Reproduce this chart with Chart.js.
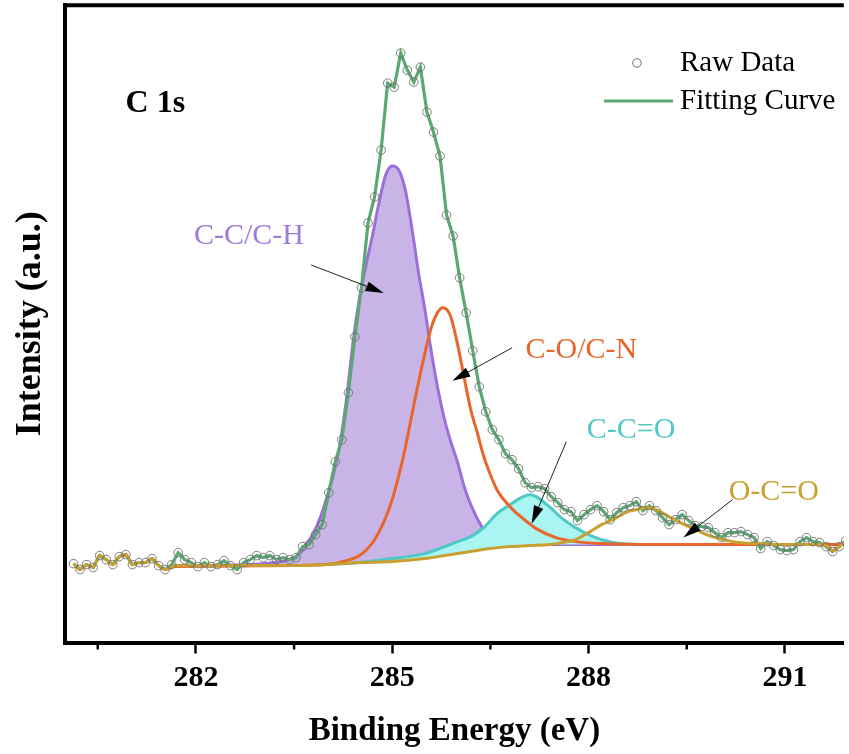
<!DOCTYPE html>
<html><head><meta charset="utf-8">
<script src="https://cdn.jsdelivr.net/npm/chart.js@4"></script>
<style>html,body{margin:0;padding:0;background:#fff;overflow:hidden}</style>
</head><body>
<canvas id="c" width="849" height="754"></canvas>
<script>
// Binding energy grid of the raw spectrum (eV)
const energy = [
280.13,280.23,280.33,280.43,280.53,280.63,280.73,280.83,280.93,281.03,
281.13,281.23,281.33,281.43,281.53,281.63,281.73,281.83,281.93,282.03,
282.13,282.23,282.33,282.43,282.53,282.63,282.73,282.83,282.93,283.03,
283.13,283.23,283.33,283.43,283.53,283.63,283.73,283.83,283.93,284.03,
284.13,284.23,284.33,284.43,284.53,284.63,284.73,284.83,284.93,285.03,
285.13,285.23,285.33,285.43,285.53,285.63,285.73,285.83,285.93,286.03,
286.13,286.23,286.33,286.43,286.53,286.63,286.73,286.83,286.93,287.03,
287.13,287.23,287.33,287.43,287.53,287.63,287.73,287.83,287.93,288.03,
288.13,288.23,288.33,288.43,288.53,288.63,288.73,288.83,288.93,289.03,
289.13,289.23,289.33,289.43,289.53,289.63,289.73,289.83,289.93,290.03,
290.13,290.23,290.33,290.43,290.53,290.63,290.73,290.83,290.93,291.03,
291.13,291.23,291.33,291.43,291.53,291.63,291.73,291.83,291.93];
// Raw intensity (a.u.)
const rawIntensity = [
79,73,78,75,87,83,78,86,88,78,
80,80,84,77,73,78,90,83,80,76,
80,76,78,82,77,73,80,83,87,85,
87,83,85,83,85,96,98,108,118,150,
181,203,250,306,355,420,446,493,560,556,
590,573,561,576,531,511,487,428,407,365,
330,292,256,231,213,203,189,183,174,160,
155,156,154,146,140,133,131,122,128,133,
137,131,123,130,135,137,141,132,137,132,
125,118,123,128,122,117,116,115,110,105,
110,110,111,108,105,94,101,97,93,92,
93,101,105,101,100,96,91,96,102];

// C-C/C-H component
const cchE = [281.6,282.8,283.2,283.5,283.6,283.7,283.8,283.9,284.0,284.1,284.2,284.3,284.4,284.5,284.6,284.7,284.8,284.9,285.0,285.1,285.2,285.3,285.4,285.5,285.6,285.7,285.8,285.9,286.0,286.1,286.2,286.4,286.6,286.8,287.1,287.5,291.9];
const cchI = [77,78,80,85,90,99,110,125,145,168,198,243,300,345,378,408,441,468,477,473,453,415,371,333,290,253,223,200,180,156,138,113,105,101,98,98,98];
// C-O/C-N component
const coE = [281.6,283.5,284.0,284.3,284.5,284.7,284.8,284.9,285.0,285.1,285.2,285.3,285.4,285.5,285.6,285.7,285.77,285.85,285.9,286.0,286.1,286.2,286.3,286.4,286.5,286.6,286.8,287.0,287.2,287.5,287.8,288.2,289.0,291.9];
const coI = [76,77,78,82,87,100,111,125,143,167,195,228,260,290,316,331,335,332,325,298,265,233,210,186,168,153,136,124,114,105,101,99,98,98];
// C-C=O component
const ccoE = [284.0,284.5,285.0,285.5,285.8,286.0,286.2,286.4,286.6,286.8,287.0,287.1,287.2,287.4,287.6,287.8,288.0,288.2,288.5,289.0,291.9];
const ccoI = [78,80,84,89,96,101,106,115,129,138,146,148,146,136,124,115,108,103,99,98,98];
// O-C=O component
const ocoE = [280.13,280.23,280.33,280.43,280.53,280.63,280.73,280.83,280.93,281.03,281.13,281.23,281.33,281.43,281.53,
281.7,283.5,284.0,284.5,285.0,285.5,285.8,286.0,286.2,286.5,286.8,287.1,287.4,287.6,287.8,288.0,288.2,288.4,288.6,288.8,288.9,289.0,289.2,289.4,289.6,289.8,290.0,290.3,290.6,291.0,291.3,291.5,291.63,291.73,291.83,291.93];
const ocoI = [79,73,78,75,87,83,78,86,88,78,80,80,84,77,73,
77,77,78,80,81,84,87,89,91,94,96,97,98,100,103,110,118,124,131,134,135,134,127,120,114,108,104,100,99,98,98,98,97,92,96,102];
// Background (baseline)
const bgE = [281.6,283.5,284.0,284.5,285.0,285.5,285.8,286.0,286.2,286.5,286.8,287.1,287.4,291.9];
const bgI = [77,77,78,80,81,84,87,89,91,94,96,97,98,98];

const majorTicks = [282,285,288,291];
const minorTicks = [280.5,283.5,286.5,289.5];

const peakLabels = [
  {text:'C-C/C-H', e:282.81, v:407, color:'#a07ad8', from:[283.76,378], to:[284.87,350]},
  {text:'C-O/C-N', e:287.89, v:293, color:'#e8662a', from:[286.83,295], to:[285.92,262]},
  {text:'C-C=O',   e:288.65, v:213, color:'#4ec9c6', from:[287.66,201], to:[287.13,119]},
  {text:'O-C=O',   e:290.83, v:151, color:'#c9a030', from:[290.20,143], to:[289.45,105]}
];

const serif = '"Liberation Serif","Times New Roman",serif';
const xy = (xs, ys) => xs.map((x, i) => ({x: x, y: ys[i]}));

function arrow(ctx, x1, y1, x2, y2) {
  const ang = Math.atan2(y2 - y1, x2 - x1), L = 18, W = 5;
  const c = Math.cos(ang), s = Math.sin(ang);
  ctx.strokeStyle = '#222'; ctx.fillStyle = '#000'; ctx.lineWidth = 1;
  ctx.beginPath(); ctx.moveTo(x1, y1); ctx.lineTo(x2 - L * 0.8 * c, y2 - L * 0.8 * s); ctx.stroke();
  ctx.beginPath(); ctx.moveTo(x2, y2);
  ctx.lineTo(x2 - L * c + W * s, y2 - L * s - W * c);
  ctx.lineTo(x2 - L * c - W * s, y2 - L * s + W * c);
  ctx.closePath(); ctx.fill();
}

const decor = {
  id: 'decor',
  afterDraw(chart) {
    const {ctx, chartArea: a, scales: {x, y}} = chart;
    ctx.save();
    ctx.strokeStyle = '#000'; ctx.lineWidth = 4;
    ctx.beginPath(); ctx.moveTo(a.left - 2, a.top); ctx.lineTo(a.right, a.top); ctx.stroke();
    ctx.lineWidth = 2.5;
    minorTicks.forEach(v => {
      const px = x.getPixelForValue(v);
      ctx.beginPath(); ctx.moveTo(px, a.bottom + 2); ctx.lineTo(px, a.bottom + 7); ctx.stroke();
    });
    // panel label
    ctx.fillStyle = '#000'; ctx.textBaseline = 'middle'; ctx.textAlign = 'center';
    ctx.font = 'bold 32px ' + serif;
    ctx.fillText('C 1s', x.getPixelForValue(281.38), y.getPixelForValue(539));
    // peak labels and arrows
    ctx.font = '30px ' + serif;
    peakLabels.forEach(p => {
      ctx.fillStyle = p.color;
      ctx.fillText(p.text, x.getPixelForValue(p.e), y.getPixelForValue(p.v));
      arrow(ctx, x.getPixelForValue(p.from[0]), y.getPixelForValue(p.from[1]),
                 x.getPixelForValue(p.to[0]), y.getPixelForValue(p.to[1]));
    });
    // legend
    ctx.textAlign = 'left'; ctx.fillStyle = '#000'; ctx.font = '29px ' + serif;
    ctx.strokeStyle = '#6f6f6f'; ctx.lineWidth = 1;
    ctx.beginPath(); ctx.arc(637, 63, 4.3, 0, Math.PI * 2); ctx.stroke();
    ctx.fillText('Raw Data', 680, 63);
    ctx.strokeStyle = '#5ba873'; ctx.lineWidth = 3.2;
    ctx.beginPath(); ctx.moveTo(604, 101); ctx.lineTo(673, 101); ctx.stroke();
    ctx.fillText('Fitting Curve', 680, 101);
    ctx.restore();
  }
};

new Chart(document.getElementById('c'), {
  type: 'line',
  data: {
    datasets: [
      {label: 'Raw Data', data: xy(energy, rawIntensity), showLine: false, pointRadius: 4.3, pointBorderWidth: 0.9,
       pointBorderColor: '#6f6f6f', pointBackgroundColor: 'rgba(0,0,0,0)', order: 0},
      {label: 'O-C=O', data: xy(ocoE, ocoI), borderColor: '#c9a030', borderWidth: 3, pointRadius: 0,
       cubicInterpolationMode: 'monotone', fill: false, order: 1},
      {label: 'Fitting Curve', data: xy(energy, rawIntensity), borderColor: '#5ba873', borderWidth: 3.2, pointRadius: 0,
       fill: false, order: 2},
      {label: 'C-O/C-N', data: xy(coE, coI), borderColor: '#e8662a', borderWidth: 3, pointRadius: 0,
       cubicInterpolationMode: 'monotone', fill: false, order: 3},
      {label: 'C-C=O', data: xy(ccoE, ccoI), borderColor: '#4ec9c6', borderWidth: 3, pointRadius: 0,
       cubicInterpolationMode: 'monotone', fill: {target: 6}, backgroundColor: '#aaf4f1', order: 4},
      {label: 'C-C/C-H', data: xy(cchE, cchI), borderColor: '#9d6fd8', borderWidth: 3, pointRadius: 0,
       cubicInterpolationMode: 'monotone', fill: {target: 6}, backgroundColor: '#c8b4e6', order: 5},
      {label: 'Background', data: xy(bgE, bgI), borderColor: 'rgba(0,0,0,0)', borderWidth: 0, pointRadius: 0,
       cubicInterpolationMode: 'monotone', fill: false, order: 6}
    ]
  },
  options: {
    responsive: false, animation: false, devicePixelRatio: 1,
    layout: {padding: {top: 5, right: 0, left: 0, bottom: 0}},
    plugins: {legend: {display: false}, tooltip: {enabled: false}},
    scales: {
      x: {
        type: 'linear', min: 280, max: 291.9, position: 'bottom',
        afterBuildTicks: s => { s.ticks = majorTicks.map(v => ({value: v})); },
        afterFit: s => { s.height = 111.5; },
        grid: {display: true, drawOnChartArea: false, drawTicks: true, tickLength: 11, tickWidth: 2.5, tickColor: '#000'},
        border: {display: true, color: '#000', width: 4},
        ticks: {font: {family: serif, size: 30, weight: 'bold'}, color: '#000', padding: 7, maxRotation: 0, autoSkip: false},
        title: {display: true, text: 'Binding Energy (eV)', color: '#000',
                font: {family: serif, size: 33, weight: 'bold'}, padding: {top: 0, bottom: 3}}
      },
      y: {
        type: 'linear', min: 0, max: 638, position: 'left',
        afterFit: s => { s.width = 65; },
        grid: {display: false, drawTicks: false},
        border: {display: true, color: '#000', width: 4},
        ticks: {display: false},
        title: {display: true, text: 'Intensity (a.u.)', color: '#000',
                font: {family: serif, size: 36, weight: 'bold'}, padding: {top: 9, bottom: 0}}
      }
    }
  },
  plugins: [decor]
});
</script>
</body></html>
